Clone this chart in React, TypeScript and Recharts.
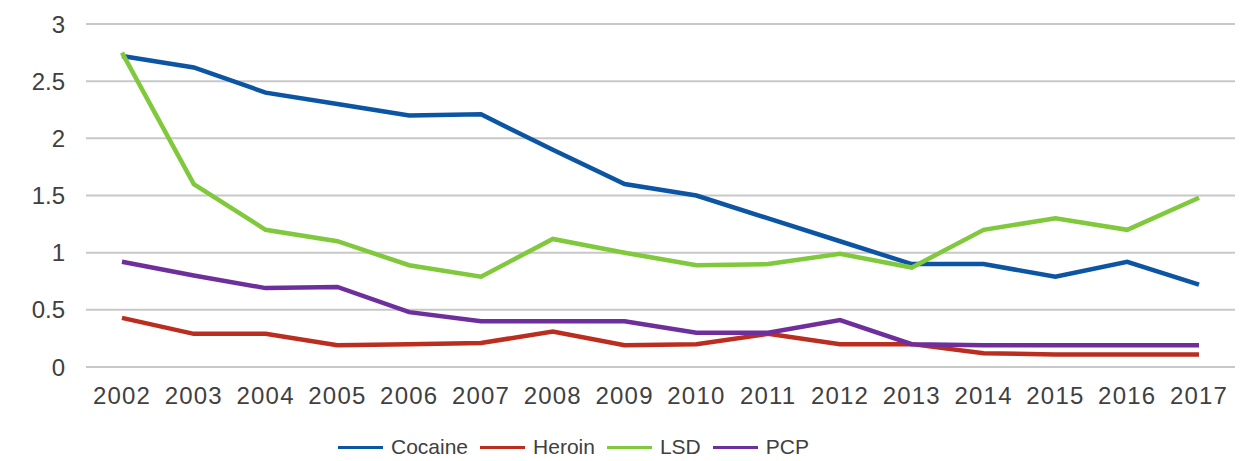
import React from "react";
import { LineChart, Line, XAxis, YAxis, CartesianGrid, Legend } from "recharts";

const years = [
    "2002", "2003", "2004", "2005", "2006", "2007", "2008", "2009",
    "2010", "2011", "2012", "2013", "2014", "2015", "2016", "2017",
];

const cocaine = [2.72, 2.62, 2.4, 2.3, 2.2, 2.21, 1.9, 1.6, 1.5, 1.3, 1.1, 0.9, 0.9, 0.79, 0.92, 0.72];
const heroin = [0.43, 0.29, 0.29, 0.19, 0.2, 0.21, 0.31, 0.19, 0.2, 0.29, 0.2, 0.2, 0.12, 0.11, 0.11, 0.11];
const lsd = [2.75, 1.6, 1.2, 1.1, 0.89, 0.79, 1.12, 1.0, 0.89, 0.9, 0.99, 0.87, 1.2, 1.3, 1.2, 1.48];
const pcp = [0.92, 0.8, 0.69, 0.7, 0.48, 0.4, 0.4, 0.4, 0.3, 0.3, 0.41, 0.2, 0.19, 0.19, 0.19, 0.19];

const yTicks = [0, 0.5, 1, 1.5, 2, 2.5, 3];

const SERIES = [
    { key: "Cocaine", color: "#0b55a3" },
    { key: "Heroin", color: "#bb2d1f" },
    { key: "LSD", color: "#80c83c" },
    { key: "PCP", color: "#6e2f9c" },
];

const data = years.map((year, i) => ({
    year,
    Cocaine: cocaine[i],
    Heroin: heroin[i],
    LSD: lsd[i],
    PCP: pcp[i],
}));

const FONT = "'Liberation Sans', Arial, sans-serif";

const renderLegend = () => (
    <div
        style={{
            display: "flex",
            justifyContent: "flex-start",
            alignItems: "center",
            paddingLeft: 338,
            paddingTop: 24,
            fontFamily: FONT,
            fontSize: 21,
            color: "#404040",
        }}
    >
        {SERIES.map((s) => (
            <div
                key={s.key}
                style={{ display: "flex", alignItems: "center", marginRight: 12 }}
            >
                <span
                    style={{
                        display: "inline-block",
                        width: 45,
                        height: 3,
                        background: s.color,
                        marginRight: 8,
                    }}
                />
                <span>{s.key}</span>
            </div>
        ))}
    </div>
);

export default function App() {
    return (
        <div style={{ position: "absolute", left: 0, top: 0 }}>
            <LineChart
                width={1245}
                height={461}
                data={data}
                margin={{ top: 24, right: 10, left: 0, bottom: 0 }}
            >
                <CartesianGrid vertical={false} stroke="#c8c8c8" strokeWidth={2} />
                <XAxis
                    dataKey="year"
                    axisLine={false}
                    tickLine={false}
                    tickSize={0}
                    tickMargin={20}
                    height={44}
                    padding={{ left: 36, right: 36 }}
                    interval={0}
                    tick={{ fill: "#404040", fontSize: 24, fontFamily: FONT, letterSpacing: 1.2 }}
                />
                <YAxis
                    domain={[0, 3]}
                    ticks={yTicks}
                    axisLine={false}
                    tickLine={false}
                    tickSize={0}
                    tickMargin={21}
                    width={86}
                    tick={{ fill: "#404040", fontSize: 24, fontFamily: FONT }}
                />
                <Legend verticalAlign="bottom" height={50} content={renderLegend} />
                {SERIES.map((s) => (
                    <Line
                        key={s.key}
                        type="linear"
                        dataKey={s.key}
                        stroke={s.color}
                        strokeWidth={4.5}
                        dot={false}
                        isAnimationActive={false}
                    />
                ))}
            </LineChart>
        </div>
    );
}
